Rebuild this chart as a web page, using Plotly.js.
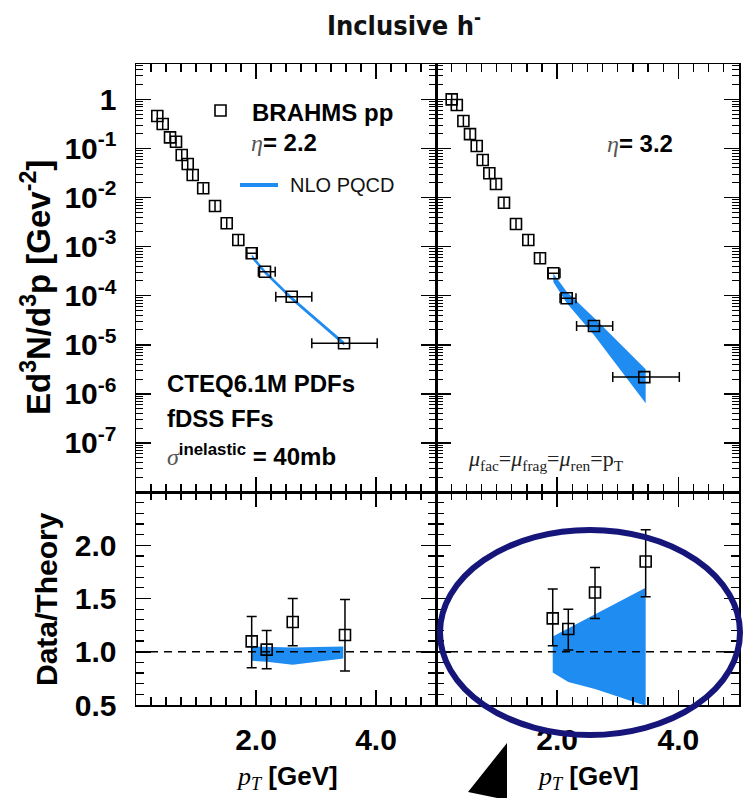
<!DOCTYPE html>
<html><head><meta charset="utf-8">
<script src="https://cdn.plot.ly/plotly-3.0.1.min.js"></script>
<style>html,body{margin:0;padding:0;background:#fff}</style>
</head><body>
<div id="chart" style="width:744px;height:798px"></div>
<script>
// ---------------- data ----------------
// eta = 2.2 spectrum
const ptEta22   = [0.355,0.445,0.567,0.667,0.762,0.862,0.945,1.12,1.317,1.512,1.705,1.928,2.15,2.595,3.467];
const yieldEta22= [0.457,0.314,0.168,0.137,0.0734,0.0481,0.0287,0.0154,0.00671,0.00298,0.00136,7.3e-4,3.08e-4,9.5e-5,1.07e-5];
const xErrPlusEta22  = [0,0,0,0,0,0,0,0,0,0,0,0.08,0.17,0.335,0.553];
const xErrMinusEta22 = [0,0,0,0,0,0,0,0,0,0,0,0.08,0.11,0.265,0.537];
// eta = 3.2 spectrum
const ptEta32   = [0.259,0.343,0.452,0.561,0.672,0.771,0.88,0.99,1.122,1.32,1.523,1.716,1.936,2.157,2.607,3.437];
const yieldEta32= [1.0,0.765,0.361,0.196,0.112,0.058,0.0311,0.0188,0.00783,0.00289,0.00136,5.78e-4,2.86e-4,8.85e-5,2.41e-5,2.19e-6];
const xErrPlusEta32  = [0,0,0,0,0,0,0,0,0,0,0,0,0.11,0.153,0.309,0.578];
const xErrMinusEta32 = [0,0,0,0,0,0,0,0,0,0,0,0,0.085,0.11,0.287,0.52];
// NLO pQCD bands on the spectra
const nloPtEta22 = [1.93,2.15,2.6,3.47];
const nloHiEta22 = [6.92e-4,3.31e-4,9.55e-5,1.15e-5];
const nloLoEta22 = [5.75e-4,2.75e-4,7.94e-5,9.55e-6];
const nloPtEta32 = [1.936,2.157,2.607,3.46];
const nloHiEta32 = [2.82e-4,1.20e-4,3.55e-5,3.16e-6];
const nloLoEta32 = [1.91e-4,7.08e-5,1.58e-5,6.46e-7];
// Data/Theory
const ratioPtEta22 = [1.928,2.178,2.612,3.483];
const ratioEta22   = [1.097,1.02,1.28,1.157];
const ratioErrUpEta22 = [0.233,0.18,0.22,0.333];
const ratioErrDnEta22 = [0.247,0.18,0.224,0.337];
const ratioBandPtEta22 = [1.928,2.178,2.612,3.455];
const ratioBandHiEta22 = [1.05,1.045,1.04,1.05];
const ratioBandLoEta22 = [0.915,0.905,0.878,0.937];
const ratioPtEta32 = [1.926,2.183,2.624,3.46];
const ratioEta32   = [1.313,1.213,1.557,1.848];
const ratioErrUpEta32 = [0.276,0.187,0.233,0.298];
const ratioErrDnEta32 = [0.257,0.197,0.244,0.332];
const ratioBandPtEta32 = [1.926,2.183,2.624,3.46];
const ratioBandHiEta32 = [1.144,1.22,1.35,1.60];
const ratioBandLoEta32 = [0.806,0.715,0.65,0.493];
// tick labels
const xTickVals = [2,4];
const xTickText = ['2.0','4.0'];
const logTickVals = [1e-7,1e-6,1e-5,1e-4,1e-3,1e-2,1e-1,1];
const logTickText = ['10<sup>-7</sup>','10<sup>-6</sup>','10<sup>-5</sup>','10<sup>-4</sup>','10<sup>-3</sup>','10<sup>-2</sup>','10<sup>-1</sup>','1'];
const ratioTickVals = [0.5,1,1.5,2];
const ratioTickText = ['0.5','1.0','1.5','2.0'];

// ---------------- layout helpers ----------------
const W = 744, H = 798;
const px = v => v / W;
const py = v => 1 - v / H;
const BLUE = '#1f8cf2';
const SANS = 'Liberation Sans, Arial, sans-serif';
const SERIF = 'Liberation Serif, Times New Roman, serif';
const tickFont = {family: SANS, size: 30, color: 'black', weight: 'bold'};

function baseAxis(extra) {
  return Object.assign({
    showline: true, linecolor: 'black', linewidth: 1.5, mirror: 'allticks',
    ticks: 'inside', ticklen: 15, tickwidth: 1.5, tickcolor: 'black',
    showgrid: false, zeroline: false, fixedrange: true, tickfont: tickFont
  }, extra);
}
function xAxis(domain, anchor, showLabels) {
  return baseAxis({
    domain, anchor, range: [0, 5], tickmode: 'array', tickvals: xTickVals, ticktext: xTickText,
    showticklabels: showLabels, ticklabelstandoff: 7,
    minor: {ticks: 'inside', ticklen: 8, tickwidth: 1.2, tickcolor: 'black', dtick: 0.25, tick0: 0}
  });
}
function logAxis(domain, anchor, showLabels) {
  return baseAxis({
    domain, anchor, type: 'log', range: [-8, 0.72], tickmode: 'array', tickvals: logTickVals, ticktext: logTickText,
    showticklabels: showLabels, ticklabelstandoff: 12,
    minor: {ticks: 'inside', ticklen: 7, tickwidth: 1, tickcolor: 'black', dtick: 'D1'}
  });
}
function ratioAxis(domain, anchor, showLabels) {
  return baseAxis({
    domain, anchor, range: [0.5, 2.5], tickmode: 'array', tickvals: ratioTickVals, ticktext: ratioTickText,
    showticklabels: showLabels, ticklabelstandoff: 12,
    minor: {ticks: 'inside', ticklen: 8, tickwidth: 1.2, tickcolor: 'black', dtick: 0.1, tick0: 0}
  });
}

const dxL = [px(136), px(436)], dxR = [px(436), px(739)];
const dyTop = [py(492), py(64)], dyBot = [py(705), py(492)];

function band(x, hi, lo, xa, ya) {
  return [
    {x, y: hi, xaxis: xa, yaxis: ya, type: 'scatter', mode: 'lines', line: {width: 0, color: BLUE}, hoverinfo: 'skip', showlegend: false},
    {x, y: lo, xaxis: xa, yaxis: ya, type: 'scatter', mode: 'lines', line: {width: 0, color: BLUE}, fill: 'tonexty', fillcolor: BLUE, hoverinfo: 'skip', showlegend: false}
  ];
}
const markerStyle = {symbol: 'square-open', size: 11, color: 'black', line: {width: 1.6, color: 'black'}};

const traces = [
  ...band(nloPtEta22, nloHiEta22, nloLoEta22, 'x3', 'y3'),
  {x: ptEta22, y: yieldEta22, xaxis: 'x3', yaxis: 'y3', type: 'scatter', mode: 'markers', marker: markerStyle, showlegend: false,
   error_x: {type: 'data', array: xErrPlusEta22, arrayminus: xErrMinusEta22, color: 'black', thickness: 1.5, width: 5}},
  ...band(nloPtEta32, nloHiEta32, nloLoEta32, 'x4', 'y4'),
  {x: ptEta32, y: yieldEta32, xaxis: 'x4', yaxis: 'y4', type: 'scatter', mode: 'markers', marker: markerStyle, showlegend: false,
   error_x: {type: 'data', array: xErrPlusEta32, arrayminus: xErrMinusEta32, color: 'black', thickness: 1.5, width: 5}},
  ...band(ratioBandPtEta22, ratioBandHiEta22, ratioBandLoEta22, 'x', 'y'),
  {x: ratioPtEta22, y: ratioEta22, xaxis: 'x', yaxis: 'y', type: 'scatter', mode: 'markers', marker: markerStyle, showlegend: false,
   error_y: {type: 'data', array: ratioErrUpEta22, arrayminus: ratioErrDnEta22, color: 'black', thickness: 1.5, width: 5}},
  ...band(ratioBandPtEta32, ratioBandHiEta32, ratioBandLoEta32, 'x2', 'y2'),
  {x: ratioPtEta32, y: ratioEta32, xaxis: 'x2', yaxis: 'y2', type: 'scatter', mode: 'markers', marker: markerStyle, showlegend: false,
   error_y: {type: 'data', array: ratioErrUpEta32, arrayminus: ratioErrDnEta32, color: 'black', thickness: 1.5, width: 5}}
];

function ann(text, x, y, font, opts) {
  return Object.assign({text, x: px(x), y: py(y), xref: 'paper', yref: 'paper', showarrow: false,
    xanchor: 'left', yanchor: 'middle', font}, opts || {});
}
const fBold24 = {family: SANS, size: 24, color: 'black', weight: 'bold'};
const etaSpan = '<span style="font-family:Liberation Serif;font-style:italic;color:#555;font-weight:normal">η</span>';
const ptSpan = '<span style="font-family:Liberation Serif;font-style:italic;font-weight:normal">p<sub>T</sub></span>';

const annotations = [
  ann('BRAHMS pp', 250, 112, fBold24),
  ann(etaSpan + '= 2.2', 249, 142, fBold24),
  ann('NLO PQCD', 288, 185, {family: SANS, size: 20, color: '#111'}),
  ann(etaSpan + '= 3.2', 605, 143, fBold24),
  ann('CTEQ6.1M PDFs', 165, 383, fBold24),
  ann('fDSS FFs', 165, 418, fBold24),
  ann('<span style="font-family:Liberation Serif;font-style:italic;color:#555;font-weight:normal">σ</span><sup>inelastic</sup> = 40mb', 165, 455, fBold24),
  ann('<i>μ</i><sub>fac</sub>=<i>μ</i><sub>frag</sub>=<i>μ</i><sub>ren</sub>=p<sub>T</sub>', 466, 460, {family: SERIF, size: 22, color: '#222'}),
  ann('Ed<sup>3</sup>N/d<sup>3</sup>p [Gev<sup>-2</sup>]', 36, 288, {family: SANS, size: 33, color: 'black', weight: 'bold'}, {xanchor: 'center', textangle: -90}),
  ann('Data/Theory', 46, 599, {family: SANS, size: 30, color: 'black', weight: 'bold'}, {xanchor: 'center', textangle: -90}),
  ann(ptSpan + ' [GeV]', 287, 777, {family: SANS, size: 26, color: 'black', weight: 'bold'}, {xanchor: 'center'}),
  ann(ptSpan + ' [GeV]', 588, 777, {family: SANS, size: 26, color: 'black', weight: 'bold'}, {xanchor: 'center'})
];

const shapes = [
  {type: 'line', xref: 'x domain', yref: 'y', x0: 0, x1: 1, y0: 1, y1: 1, line: {color: 'black', width: 1.5, dash: '8px,6px'}},
  {type: 'line', xref: 'x2 domain', yref: 'y2', x0: 0, x1: 1, y0: 1, y1: 1, line: {color: 'black', width: 1.5, dash: '8px,6px'}},
  {type: 'rect', xref: 'paper', yref: 'paper', x0: px(215), x1: px(226), y0: py(116), y1: py(105), line: {color: 'black', width: 1.6}},
  {type: 'line', xref: 'paper', yref: 'paper', x0: px(240), x1: px(278), y0: py(185), y1: py(185), line: {color: BLUE, width: 4}},
  {type: 'circle', xref: 'paper', yref: 'paper', x0: px(440), x1: px(740), y0: py(735), y1: py(530), line: {color: '#16167a', width: 6}, layer: 'above'},
  {type: 'path', xref: 'paper', yref: 'paper',
   path: `M ${px(507)} ${py(743)} L ${px(468)} ${py(792)} L ${px(507)} ${py(800)} Z`, fillcolor: 'black', line: {width: 0}}
];

const layout = {
  width: W, height: H, margin: {l: 0, r: 0, t: 0, b: 0}, paper_bgcolor: 'white', plot_bgcolor: 'white',
  showlegend: false,
  title: {text: 'Inclusive h<sup>-</sup>', x: px(404), y: py(26), xref: 'paper', yref: 'paper', xanchor: 'center', yanchor: 'middle',
          font: {family: 'DejaVu Sans Condensed, Liberation Sans Narrow, Liberation Sans, sans-serif', size: 27, color: '#111', weight: 'bold', stretch: 'condensed'}},
  xaxis: xAxis(dxL, 'y', true),
  yaxis: ratioAxis(dyBot, 'x', true),
  xaxis2: xAxis(dxR, 'y2', true),
  yaxis2: ratioAxis(dyBot, 'x2', false),
  xaxis3: xAxis(dxL, 'y3', false),
  yaxis3: logAxis(dyTop, 'x3', true),
  xaxis4: xAxis(dxR, 'y4', false),
  yaxis4: logAxis(dyTop, 'x4', false),
  annotations, shapes
};

Plotly.newPlot('chart', traces, layout, {staticPlot: true, displayModeBar: false});
</script>
</body></html>
